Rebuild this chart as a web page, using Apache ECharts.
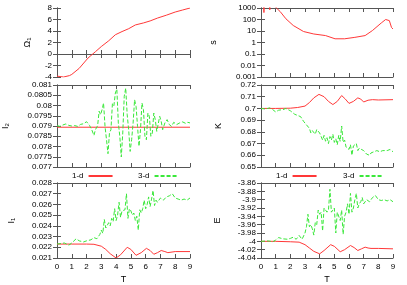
<!DOCTYPE html>
<html><head><meta charset="utf-8">
<script src="https://cdn.jsdelivr.net/npm/echarts@6/dist/echarts.min.js"></script>
<style>html,body{margin:0;padding:0;background:#fff}#c{width:407px;height:285px}</style>
</head><body><div id="c"></div>
<script>
// ---------- data ----------
const xTicks = [0,1,2,3,4,5,6,7,8,9];

const omegaT = [0,0.45,0.85,1.0,1.5,2.1,2.6,3.0,3.5,3.95,4.4,4.85,5.3,5.85,6.3,6.8,7.4,8.0,8.5,9.0];
const omegaV = [-3.85,-4.0,-3.75,-3.55,-2.5,-0.7,0.4,1.3,2.3,3.35,3.9,4.4,5.05,5.4,5.75,6.25,6.75,7.3,7.65,8.0];

const sT = [0,0.18,0.2,0.22,0.58,0.6,0.62,0.95,1.05,1.3,1.7,2.2,2.9,3.6,4.4,5.05,5.7,6.4,7.1,7.6,8.2,8.5,8.75,8.9,9.0];
const sV = [3000,3000,400,3000,3000,700,3000,1500,1000,500,115,30,9,5.5,4,2.1,2.1,2.8,4,11,50,100,80,20,15];

const i2T1 = [0,9];
const i2V1 = [0.07894,0.07894];
const i2T3 = [0,0.2,0.4,0.6,0.8,1.0,1.2,1.4,1.6,1.8,2.0,2.2,2.35,2.5,2.6,2.75,2.85,2.95,3.05,3.15,3.25,3.35,3.45,3.55,3.65,3.75,3.85,3.95,4.05,4.15,4.25,4.35,4.45,4.55,4.65,4.75,4.85,4.95,5.05,5.15,5.25,5.35,5.45,5.55,5.65,5.75,5.85,5.95,6.05,6.15,6.25,6.35,6.45,6.55,6.65,6.75,6.85,6.95,7.05,7.15,7.3,7.45,7.6,7.75,7.9,8.1,8.3,8.5,8.7,8.85,9.0];
const i2V3 = [0.07902,0.07898,0.07905,0.07910,0.07903,0.07900,0.07902,0.07898,0.07908,0.07911,0.07921,0.07903,0.07882,0.07854,0.07882,0.07902,0.07972,0.07955,0.07980,0.08012,0.07898,0.07833,0.07765,0.07866,0.07882,0.08009,0.07999,0.08061,0.08080,0.07915,0.07850,0.07749,0.07866,0.08045,0.08085,0.07955,0.07882,0.07776,0.07833,0.07915,0.08028,0.07996,0.07898,0.07801,0.07882,0.08012,0.07980,0.07850,0.07833,0.07963,0.07947,0.07850,0.07866,0.07963,0.07931,0.07874,0.07882,0.07947,0.07923,0.07882,0.07915,0.07931,0.07907,0.07898,0.07918,0.07907,0.07915,0.07920,0.07913,0.07918,0.07915];

const kT1 = [0,1,2,2.5,3.0,3.3,3.6,3.95,4.3,4.6,4.9,5.2,5.5,5.75,6.0,6.3,6.6,6.8,7.0,7.3,7.6,8.0,9.0];
const kV1 = [0.700,0.700,0.7002,0.7008,0.702,0.705,0.709,0.712,0.710,0.706,0.7033,0.706,0.711,0.708,0.7043,0.706,0.709,0.708,0.7055,0.707,0.7075,0.7072,0.7075];
const kT3 = [0,0.3,0.6,0.8,1.0,1.2,1.5,1.7,2.0,2.3,2.5,2.7,2.9,3.1,3.3,3.4,3.5,3.7,3.8,4.0,4.1,4.2,4.3,4.4,4.5,4.6,4.7,4.8,4.9,5.0,5.1,5.2,5.3,5.4,5.5,5.6,5.7,5.8,5.9,6.0,6.1,6.2,6.3,6.4,6.5,6.6,6.7,6.8,7.0,7.2,7.4,7.5,7.7,7.9,8.1,8.3,8.6,8.8,9.0];
const kV3 = [0.700,0.6995,0.7005,0.699,0.697,0.6985,0.699,0.700,0.698,0.695,0.694,0.693,0.689,0.686,0.683,0.679,0.681,0.678,0.682,0.679,0.676,0.673,0.677,0.672,0.675,0.670,0.676,0.673,0.678,0.671,0.674,0.669,0.677,0.672,0.685,0.671,0.673,0.667,0.668,0.665,0.669,0.660,0.668,0.667,0.670,0.664,0.666,0.667,0.664,0.661,0.660,0.662,0.663,0.664,0.663,0.664,0.664,0.665,0.663];

const i1T1 = [0,1,2,2.5,3.0,3.3,3.6,4.0,4.3,4.75,5.0,5.35,5.7,6.05,6.3,6.55,6.8,7.05,7.3,7.5,8,9];
const i1V1 = [0.0223,0.0223,0.0223,0.02228,0.0221,0.0218,0.0214,0.0210,0.0213,0.0220,0.0218,0.02125,0.0215,0.0219,0.0217,0.02135,0.0215,0.0217,0.0216,0.0215,0.0216,0.0216];
const i1T3 = [0,0.5,0.8,1.0,1.3,1.5,1.8,2.0,2.3,2.5,2.7,2.9,3.0,3.1,3.2,3.3,3.5,3.6,3.7,3.8,3.9,4.0,4.1,4.2,4.3,4.4,4.5,4.6,4.7,4.8,4.9,5.0,5.1,5.2,5.3,5.4,5.5,5.6,5.7,5.8,5.9,6.0,6.1,6.2,6.3,6.4,6.5,6.6,6.7,6.8,7.0,7.2,7.4,7.6,7.8,8.0,8.2,8.4,8.6,8.8,9.0];
const i1V3 = [0.0223,0.0224,0.0222,0.0224,0.0228,0.0226,0.0225,0.0226,0.0227,0.0229,0.0228,0.0232,0.0236,0.0233,0.0246,0.0238,0.0243,0.0240,0.0247,0.0244,0.0256,0.0245,0.0250,0.0262,0.0248,0.0254,0.0253,0.0255,0.0270,0.0247,0.0256,0.0254,0.0250,0.0252,0.0245,0.0249,0.0236,0.0255,0.0252,0.0256,0.0264,0.0256,0.0260,0.0267,0.0258,0.0265,0.0273,0.0259,0.0264,0.0262,0.0266,0.0264,0.0267,0.0268,0.0270,0.0266,0.0265,0.0264,0.0265,0.0264,0.0266];

const eT1 = [0,1,2,2.6,3.0,3.3,3.6,4.0,4.3,4.75,5.0,5.4,5.7,6.1,6.35,6.6,6.85,7.1,7.3,7.5,8,9];
const eV1 = [-4.0,-4.0,-4.001,-4.002,-4.008,-4.016,-4.024,-4.03,-4.022,-4.008,-4.012,-4.025,-4.02,-4.01,-4.015,-4.022,-4.018,-4.014,-4.016,-4.017,-4.017,-4.018];
const eT3 = [0,0.5,0.8,1.0,1.2,1.5,1.8,2.0,2.2,2.4,2.6,2.7,2.8,3.0,3.1,3.2,3.3,3.4,3.5,3.6,3.7,3.8,3.9,4.0,4.1,4.2,4.3,4.4,4.5,4.6,4.7,4.8,4.9,5.0,5.1,5.2,5.3,5.4,5.5,5.6,5.7,5.8,5.9,6.0,6.1,6.2,6.3,6.4,6.5,6.6,6.7,6.8,6.9,7.0,7.2,7.4,7.6,7.8,8.0,8.2,8.4,8.6,8.8,9.0];
const eV3 = [-4.0,-3.999,-4.001,-3.997,-3.991,-3.994,-3.995,-3.993,-3.99,-3.995,-3.986,-3.99,-3.995,-3.98,-3.965,-3.935,-3.965,-3.96,-3.97,-3.985,-3.955,-3.96,-3.925,-3.935,-3.93,-3.975,-3.92,-3.925,-3.93,-3.925,-3.875,-3.93,-3.925,-3.92,-3.98,-3.93,-3.93,-3.95,-3.925,-3.983,-3.94,-3.93,-3.91,-3.935,-3.885,-3.93,-3.92,-3.9,-3.885,-3.92,-3.91,-3.905,-3.895,-3.91,-3.9,-3.905,-3.895,-3.89,-3.9,-3.902,-3.9,-3.903,-3.9,-3.905];

// ---------- chart ----------
const zip = (a, b) => a.map((x, i) => [x, b[i]]);
const FONT = 'Liberation Sans';
const AX = '#555';
const RED = '#ff3838';
const GREEN = '#3ae83a';
const fmt = v => String(parseFloat(Number(v).toPrecision(6)));

const panels = [
  {grid:{left:57,top:8,width:133,height:69}, y:{type:'value',min:-4,max:8,interval:2},
   name:'{a|Ω}{b|1}', gap:25, xl:false, series:[[omegaT,omegaV,'1-d']]},
  {grid:{left:261,top:8,width:132,height:69}, y:{type:'log',min:0.001,max:1000,logBase:10,splitNumber:6},
   name:'s', gap:43, xl:false, series:[[sT,sV,'1-d']]},
  {grid:{left:57,top:85,width:133,height:82}, y:{type:'value',min:0.077,max:0.081,interval:0.0005},
   name:'{a|I}{b|2}', gap:47, xl:false, series:[[i2T1,i2V1,'1-d'],[i2T3,i2V3,'3-d']]},
  {grid:{left:261,top:85,width:132,height:82}, y:{type:'value',min:0.65,max:0.72,interval:0.01},
   name:'K', gap:38, xl:false, series:[[kT1,kV1,'1-d'],[kT3,kV3,'3-d']]},
  {grid:{left:57,top:183,width:133,height:78}, y:{type:'value',min:0.021,max:0.028,interval:0.001},
   name:'{a|I}{b|1}', gap:41, xl:true, series:[[i1T1,i1V1,'1-d'],[i1T3,i1V3,'3-d']]},
  {grid:{left:261,top:183,width:132,height:78}, y:{type:'value',min:-4.04,max:-3.86,interval:0.02},
   name:'E', gap:39, xl:true, series:[[eT1,eV1,'1-d'],[eT3,eV3,'3-d']]}
];

const grid = [], xAxis = [], yAxis = [], series = [];
const tick = {show:true, inside:true, length:4, lineStyle:{color:AX, width:1}};
const line = {show:true, lineStyle:{color:AX, width:1}};
const rich = {a:{fontSize:9,fontFamily:FONT,color:'#000',lineHeight:12,verticalAlign:'bottom'},
              b:{fontSize:6,fontFamily:FONT,color:'#000',lineHeight:12,verticalAlign:'bottom'}};

panels.forEach((p, i) => {
  grid.push(Object.assign({containLabel:false}, p.grid));
  const xbase = {type:'value', min:0, max:9, interval:1, gridIndex:i, axisLine:line, axisTick:tick, splitLine:{show:false}};
  xAxis.push(Object.assign({}, xbase, {position:'bottom',
    axisLabel:{show:p.xl, fontSize:8, fontFamily:FONT, color:'#000', margin:5,
               formatter: v => xTicks.includes(v) ? String(v) : ''},
    name: p.xl ? 'T' : '', nameLocation:'middle', nameGap:17,
    nameTextStyle:{fontSize:9, fontFamily:FONT, color:'#000'}}));
  xAxis.push(Object.assign({}, xbase, {position:'top', axisLabel:{show:false}}));
  const ybase = Object.assign({gridIndex:i, axisLine:line, axisTick:tick, splitLine:{show:false}, minorTick:{show:false}}, p.y);
  yAxis.push(Object.assign({}, ybase, {position:'left',
    axisLabel:{show:true, fontSize:8, fontFamily:FONT, color:'#000', margin:5, formatter: fmt},
    name:p.name, nameLocation:'middle', nameRotate:90, nameGap:p.gap,
    nameTextStyle:{fontSize:9, fontFamily:FONT, color:'#000', rich: rich}}));
  yAxis.push(Object.assign({}, ybase, {position:'right', axisLabel:{show:false}}));
  p.series.forEach(([t, v, nm]) => {
    const is3 = nm === '3-d';
    series.push({type:'line', name:nm, xAxisIndex:2*i, yAxisIndex:2*i, data:zip(t, v),
      symbol:'none', showSymbol:false, animation:false, clip:true, silent:true, z: is3 ? 3 : 2,
      lineStyle:{color: is3 ? GREEN : RED, width:1, type: is3 ? [4,2] : 'solid'},
      itemStyle:{color: is3 ? GREEN : RED}});
  });
});

const leg = (name, left) => ({data:[name], left:left, top:172, align:'right', itemWidth:24, itemHeight:8,
  selectedMode:false, padding:0, itemGap:0,
  itemStyle:{color:'rgba(0,0,0,0)', borderColor:'rgba(0,0,0,0)', borderWidth:0, opacity:0},
  textStyle:{fontSize:8, fontFamily:FONT, color:'#000'}});

const chart = echarts.init(document.getElementById('c'), null, {renderer:'canvas'});
chart.setOption({
  animation:false,
  backgroundColor:'#fff',
  grid, xAxis, yAxis, series,
  legend:[leg('1-d',72), leg('3-d',138), leg('1-d',276), leg('3-d',343)]
});
</script></body></html>
